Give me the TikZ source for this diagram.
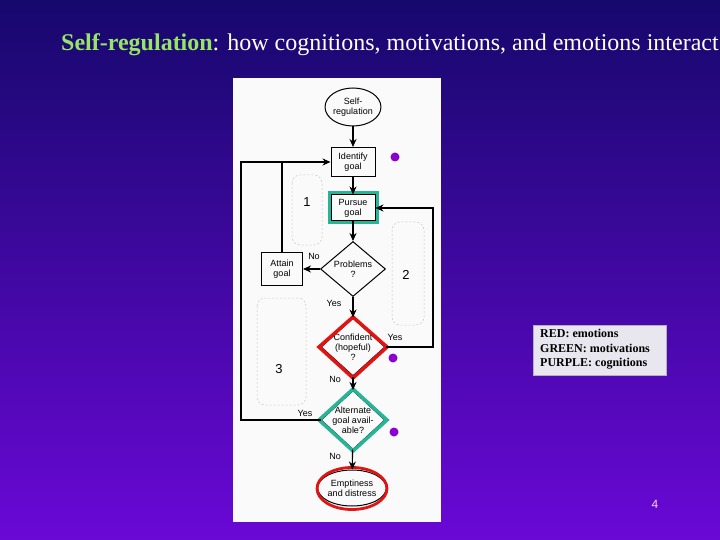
\documentclass[tikz,border=0pt]{standalone}
\usepackage{fontspec}
\setmainfont{Liberation Serif}
\newfontfamily\chartfont{Liberation Sans}
\usetikzlibrary{shapes.geometric,arrows.meta}
\definecolor{bgtop}{RGB}{22,8,108}
\definecolor{bgbot}{RGB}{106,8,214}
\definecolor{titlegreen}{RGB}{150,230,100}
\definecolor{teal}{RGB}{40,180,150}
\definecolor{hlred}{RGB}{225,20,20}
\definecolor{dotpurple}{RGB}{140,0,210}
\definecolor{legendbg}{RGB}{232,230,238}
\definecolor{panel}{RGB}{250,250,250}
\tikzset{
  chart/.style={font=\chartfont\fontsize{9}{10}\selectfont, text=black, align=center},
  boxnode/.style={chart, draw=black, line width=1pt, rectangle, minimum width=44pt, minimum height=29pt, inner sep=1pt},
  dia/.style={chart, draw=black, line width=1pt, diamond, aspect=1.1, inner sep=-12pt},
  flow/.style={draw=black, line width=1.1pt, -{Stealth[length=8pt,width=7pt]}},
  plain/.style={draw=black, line width=1.1pt},
  lab/.style={chart},
  region/.style={draw=gray!45, dashed, dash pattern=on 2pt off 2pt, rounded corners=8pt, line width=0.5pt},
  numlab/.style={font=\chartfont\fontsize{13}{13}\selectfont, text=black},
  pdot/.style={circle, fill=dotpurple, inner sep=0pt, minimum size=9pt},
}
\begin{document}
\begin{tikzpicture}[x=1pt,y=-1pt]
\useasboundingbox (0,0) rectangle (720,540);
\shade[top color=bgtop, bottom color=bgbot] (0,0) rectangle (720,540);
% title
\node[anchor=base west, inner sep=0pt, font=\fontsize{24}{28}\selectfont] (title) at (61,51)
  {\textcolor{titlegreen}{\textbf{Self-regulation}}\textcolor{white}{: how cognitions, motivations, and emotions interact}};
% panel
\fill[panel] (233,78) rectangle (441,522);
% dashed regions
\draw[region] (292,175) rectangle (322,245);
\draw[region] (392,222) rectangle (424,325);
\draw[region] (257,298) rectangle (306,405);
\node[numlab] (n1) at (307,202) {1};
\node[numlab] (n2) at (406,275) {2};
\node[numlab] (n3) at (279,369) {3};
% nodes
\node[chart, draw=black, line width=1pt, ellipse, minimum width=46pt, minimum height=38pt, inner sep=0pt] (self) at (353,107) {Self-\\regulation};
\node[boxnode] (identify) at (353,162) {Identify\\goal};
\node[boxnode, minimum width=44pt, minimum height=26pt] (pursue) at (353,208) {Pursue\\goal};
\draw[teal, line width=3.5pt] (329.5,192.5) rectangle (377.5,222.5);
\node[dia, minimum width=65pt, minimum height=55pt] (problems) at (353,269) {Problems\\?};
\node[boxnode, minimum width=41pt, minimum height=33pt] (attain) at (282,269) {Attain\\goal};
\node[dia, minimum width=64pt, minimum height=58pt] (confident) at (353,347) {Confident\\(hopeful)\\?};
\draw[hlred, line width=3.5pt] (353,317) -- (387,347) -- (353,378) -- (319,347) -- cycle;
\node[dia, minimum width=64pt, minimum height=59pt] (alternate) at (353,420) {Alternate\\goal avail-\\able?};
\draw[teal, line width=3.5pt] (353,389) -- (387,420) -- (353,451) -- (319,420) -- cycle;
\node[chart, draw=black, line width=1pt, ellipse, minimum width=62pt, minimum height=36pt, inner sep=0pt] (empty) at (352,488) {Emptiness\\and distress};
\draw[hlred, line width=2.8pt] (352,488.5) ellipse (35pt and 21pt);
% connectors
\draw[flow] (self) -- (identify);
\draw[flow] (identify) -- (pursue);
\draw[flow] (pursue) -- (problems);
\draw[flow] (problems) -- (attain);
\draw[flow] (problems) -- (confident);
\draw[flow] (confident) -- (alternate);
\draw[flow] (alternate) -- (empty);
\coordinate (cr) at (433,347);
\coordinate (ct) at (433,208);
\draw[flow] (confident.east) -- (cr) -- (ct) -- (pursue.east);
\coordinate (al) at (241,420);
\coordinate (at) at (241,162);
\draw[flow] (alternate.west) -- (al) -- (at) -- (identify.west);
\coordinate (aj) at (282,162);
\draw[plain] (attain.north) -- (aj);
% labels
\node[lab] (lno1) at (314,256) {No};
\node[lab] (lyes1) at (334,303) {Yes};
\node[lab] (lyes2) at (395,337) {Yes};
\node[lab] (lno2) at (335,379) {No};
\node[lab] (lyes3) at (305,413) {Yes};
\node[lab] (lno3) at (335,456) {No};
% dots
\node[pdot] (d1) at (395,157) {};
\node[pdot] (d2) at (393,358) {};
\node[pdot] (d3) at (394,432) {};
% legend
\node[fill=legendbg, draw=gray!60, line width=0.4pt, minimum width=133pt, minimum height=50pt, anchor=north west] (legend) at (533,325) {};
\node[anchor=north west, inner sep=0pt, align=left, font=\bfseries\fontsize{12}{14.5}\selectfont, text=black] (legtext) at (540,329)
  {RED: emotions\\GREEN: motivations\\PURPLE: cognitions};
% page number
\node[font=\chartfont\fontsize{12}{12}\selectfont, text=pink!60!white] (pg) at (655,504) {4};
\end{tikzpicture}
\end{document}
